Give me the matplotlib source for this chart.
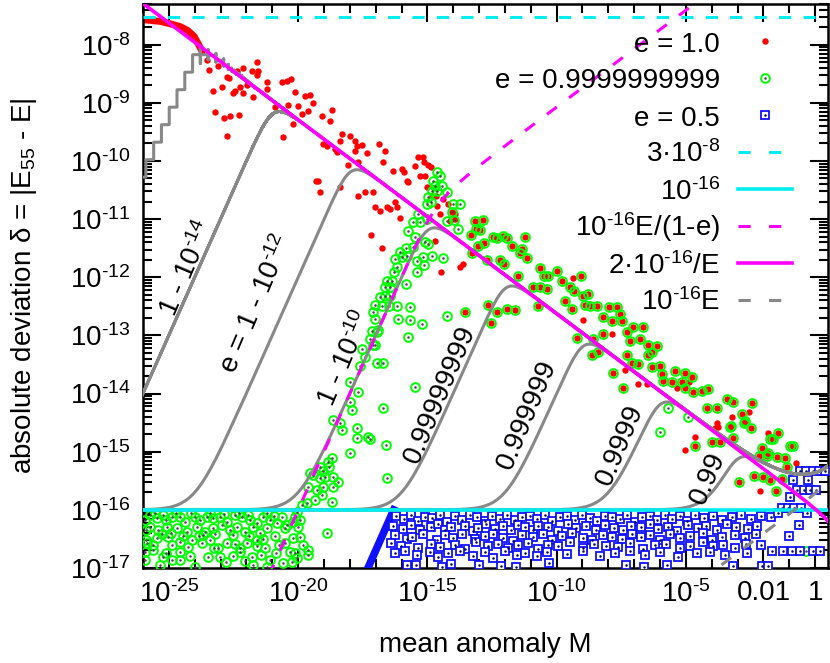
import numpy as np
import matplotlib
matplotlib.use('Agg')
import matplotlib.pyplot as plt
from matplotlib.ticker import FixedLocator, FixedFormatter, NullFormatter, LogLocator

plt.rcParams['font.family'] = ['Liberation Sans', 'DejaVu Sans']
plt.rcParams['mathtext.fontset'] = 'custom'
plt.rcParams['mathtext.rm'] = 'Liberation Sans'
plt.rcParams['mathtext.it'] = 'Liberation Sans'
plt.rcParams['mathtext.default'] = 'regular'

# ---------------- data (log10 M, log10 delta) ----------------
# e = 1.0 points that are not coincident with e = 0.9999999999
red_logM = [-23.52,-23.44,-23.09,-22.75,-22.67,-22.36,-22.13,-21.58,-21.55,-21.78,
            -21.58,-21.20,-21.97,-22.24,-22.44,-22.94,-23.29,-22.51,-22.13,-21.74,
            -21.20,-23.21,-22.86,-22.63,-22.28,-22.75,-20.89,
            -20.62,-20.43,-20.27,-20.12,-19.73,-19.54,-19.42,-20.00,-20.39,-19.61,
            -19.85,-20.20,-19.07,-18.76,-18.68,-20.58,-19.03,-18.88,-18.57,-18.30,
            -18.38,-17.99,-17.79,-17.72,-17.52,-18.49,-17.79,-17.33,-18.07,-17.68,
            -16.87,-16.64,-16.71,-16.32,-15.98,-15.90,-15.78,-15.74,-15.47,-15.36,
            -15.16,-15.12,-14.97,-14.85,-15.28,-15.09,-15.01,-14.82,-14.66,-14.62,
            -14.51,-13.93,-19.23,-19.31,-19.15,-18.38,-17.68,-17.41,-17.10,-17.02,
            -16.56,-16.44,-16.25,-16.17,-16.05,-16.83,-17.17,-16.75,-14.47,-13.62,
            -13.93,-14.12,-14.70,-13.73,-14.39,-14.20,-14.04,
            -9.36,-8.97,-7.85,-7.35,-5.34,-4.87,-6.50,-6.85,-2.55,-3.79,
            -3.21,-3.87,-4.64,-1.82,-5.03,-2.13,-3.75,-0.74]
red_logd = [-8.27,-8.43,-8.36,-8.55,-8.58,-8.45,-8.41,-8.29,-8.45,-8.46,
            -8.53,-8.64,-8.69,-8.72,-8.79,-8.72,-8.79,-8.83,-8.83,-8.90,
            -8.77,-9.15,-9.26,-9.22,-9.21,-9.57,-9.07,
            -8.65,-8.62,-8.59,-8.81,-8.88,-8.86,-9.00,-9.05,-9.03,-9.14,
            -9.19,-9.36,-9.22,-9.31,-9.12,-9.58,-9.70,-9.74,-9.79,-9.53,
            -9.65,-9.57,-9.65,-9.74,-9.72,-9.84,-9.83,-9.86,-10.07,-10.02,
            -9.70,-9.83,-10.02,-10.17,-10.14,-10.19,-10.34,-10.36,-10.08,-9.93,
            -9.93,-10.02,-10.07,-10.10,-10.26,-10.26,-10.45,-10.60,-10.60,-10.77,
            -10.91,-10.91,-10.34,-10.34,-10.53,-10.45,-10.60,-10.53,-10.53,-10.79,
            -10.79,-10.83,-10.71,-10.79,-10.98,-10.86,-11.27,-11.50,-11.91,-11.77,
            -11.00,-11.03,-11.38,-11.82,-10.66,-10.74,-10.88,
            -12.02,-12.74,-12.97,-13.60,-13.90,-13.81,-13.84,-13.84,-14.31,-14.50,
            -14.40,-14.59,-14.74,-14.67,-14.97,-15.67,-14.57,-15.19]

# e = 1.0 dense points at the smallest M (read as a band)
red_band_logM = [-26.0, -25.34, -24.96, -24.56, -24.26, -24.02, -23.87, -23.71]
red_band_logd = [-7.57, -7.60, -7.64, -7.69, -7.76, -7.86, -7.98, -8.12]

# points where e = 1.0 and e = 0.9999999999 coincide
both_logM = [-13.31,-13.11,-12.96,-12.84,-13.15,-13.04,-13.27,-12.80,-12.46,-12.30,
             -12.07,-11.91,-11.72,-11.33,-11.22,-11.41,-11.14,-12.19,-12.03,-12.69,
             -11.49,-10.64,-10.48,-10.33,-10.91,-10.64,-10.37,-10.72,-12.65,-12.30,
             -11.91,-11.61,-12.53,-13.54,-9.98,-9.79,-9.05,-9.48,-9.32,-9.67,
             -9.40,-8.97,-8.78,-8.90,-8.70,-8.43,-7.97,-7.66,-8.20,-7.85,
             -7.47,-7.54,-7.04,-6.65,-9.21,-8.20,-7.27,-7.16,-6.77,-6.46,
             -6.11,-6.31,-8.59,-8.39,-8.63,-7.27,-6.46,-7.08,-6.85,-6.00,
             -6.31,-7.81,-5.92,-5.42,-5.03,-4.76,-5.88,-5.53,-5.15,-5.03,
             -4.72,-4.37,-4.14,-7.43,-4.18,-3.79,-3.40,-3.17,-2.44,-2.82,
             -2.71,-3.29,-2.48,-3.17,-3.68,-3.98,-1.43,-1.74,-2.05,-0.97,
             -0.85,-4.64,-2.17,-1.86,-1.16,-1.08,-2.36,-2.01,-1.74,-1.28,
             -3.25,-2.75,-1.62,-1.82,-1.47,-2.94,-1.51]
both_logd = [-11.28,-11.17,-11.19,-11.02,-11.03,-11.47,-11.59,-11.41,-11.31,-11.33,
             -11.29,-11.33,-11.47,-11.52,-11.31,-11.59,-11.67,-11.71,-11.78,-11.71,
             -11.98,-11.84,-11.98,-11.98,-12.17,-12.16,-12.21,-12.50,-12.48,-12.59,
             -12.55,-12.57,-12.78,-12.59,-11.90,-12.07,-11.98,-12.16,-12.24,-12.41,
             -12.55,-12.33,-12.29,-12.47,-12.50,-12.50,-12.52,-12.52,-12.69,-12.76,
             -12.76,-12.64,-12.86,-12.86,-13.05,-12.97,-12.95,-13.09,-13.07,-13.16,
             -13.19,-13.28,-13.07,-13.28,-13.33,-13.33,-13.33,-13.47,-13.50,-13.53,
             -13.55,-13.64,-13.67,-13.62,-13.64,-13.71,-13.79,-13.81,-13.81,-13.91,
             -13.98,-13.95,-13.93,-13.91,-14.24,-14.24,-14.10,-14.14,-14.17,-14.36,
             -14.47,-14.57,-14.59,-14.76,-14.84,-14.84,-14.67,-14.79,-14.93,-14.91,
             -14.91,-14.91,-15.07,-15.07,-15.10,-15.26,-15.41,-15.43,-15.48,-15.47,
             -14.55,-14.50,-14.78,-15.02,-15.09,-15.52,-15.67]

# e = 0.9999999999 only
green_logM = [-16.94,-17.10,-17.52,-17.41,-17.60,-16.94,-16.71,-15.74,-15.47,-16.71,
              -16.60,-16.56,-17.99,-17.68,-17.99,-17.91,-18.65,-18.38,-18.30,-17.72,
              -17.72,-17.29,-17.21,-17.99,-18.68,-18.84,-18.80,-19.15,-19.03,-19.54,
              -19.42,-19.15,-18.96,-18.65,-18.45,-18.65,-19.03,-19.61,-19.27,-19.07,
              -18.68,-19.34,-19.65,-19.85,-20.04,-20.12,-19.92,-20.19,-20.43,-20.50,
              -20.62,-20.00,-19.92,-20.19,-19.81,-20.50,-20.31,-20.12,-19.61,-19.61,
              -18.88,-20.04,-20.23,
              -14.62,-14.51,-14.78,-14.70,-14.43,-14.62,-14.82,-14.97,-15.01,-14.85,
              -14.24,-14.00,-13.73,-14.04,-14.24,-13.97,-13.81,-15.36,-15.55,-15.28,
              -15.01,-15.74,-15.09,-14.97,-15.47,-15.55,-15.82,-16.05,-15.98,-16.25,
              -15.78,-15.40,-15.16,-14.82,-14.39,-15.13,-15.40,-16.17,-16.29,-16.36,
              -16.56,-16.63,-16.44,-15.82,-16.63,-16.44,-16.83,-17.02,-16.75,-16.48,
              -16.17,-17.10,-17.02,-16.13,-15.67,-15.67,-15.20,-17.14,-16.91,-17.21,
              -17.02,-14.24,-4.91,-5.69,-6.00,
              -25.73,-25.45,-25.22,-24.87,-24.56,-24.37,-23.98,-23.79,-23.52,-23.29,
              -23.02,-22.75,-22.44,-22.17,-21.86,-21.59,-21.35,-21.08,-20.81,-25.73,
              -25.42,-25.07,-24.68,-24.29,-23.91,-23.60,-23.29,-22.94,-22.63,-22.36,
              -22.05,-21.74,-21.47,-21.20,-25.84,-25.45,-25.03,-24.56,-24.10,-23.71,
              -23.40,-23.09,-22.75,-22.24,-21.97,-21.59,-21.28,-24.87,-23.67,-25.92,
              -25.61,-25.22,-24.87,-24.56,-23.98,-23.48,-23.02,-22.51,-22.24,-21.78,
              -21.74,-21.20,-25.34,-24.56,-21.08,-25.92,-25.88,-25.88,-25.92,
              -25.55,-25.10,-24.72,-24.15,-23.40,-22.85,-22.30,-21.95,-21.20,-20.95,
              -25.25,-24.90,-24.45,-23.85,-23.20,-22.50,-21.90,-21.35,-20.90,-20.75,
              -25.60,-24.25,-23.25,-22.45,-21.60,-20.85,-25.10,-24.20,-22.80,-22.05,
              -21.45,-20.60,-0.35]
green_logd = [-12.95,-13.16,-13.24,-13.38,-13.53,-13.47,-13.47,-13.02,-13.88,-14.24,
              -14.88,-15.45,-13.81,-13.97,-14.14,-14.28,-14.45,-14.50,-14.62,-14.59,
              -14.76,-14.74,-14.79,-15.02,-15.10,-15.17,-15.26,-15.26,-15.34,-15.36,
              -15.40,-15.45,-15.43,-15.43,-15.52,-15.60,-15.60,-15.60,-15.66,-15.74,
              -15.86,-15.83,-15.88,-15.91,-16.03,-16.12,-16.17,-16.21,-16.26,-16.31,
              -16.12,-16.29,-16.47,-16.48,-16.60,-16.57,-16.72,-16.74,-16.69,-16.78,
              -16.40,-16.83,-16.90,
              -10.19,-10.26,-10.34,-10.43,-10.43,-10.52,-10.52,-10.62,-10.74,-10.71,
              -10.53,-10.74,-10.74,-10.88,-11.03,-11.02,-11.17,-10.91,-11.05,-11.05,
              -11.00,-11.21,-11.40,-11.43,-11.31,-11.48,-11.50,-11.57,-11.66,-11.69,
              -11.64,-11.72,-11.66,-11.64,-11.67,-11.79,-11.91,-11.83,-11.91,-12.07,
              -12.07,-12.16,-12.17,-12.12,-12.33,-12.33,-12.34,-12.47,-12.50,-12.50,
              -12.50,-12.60,-12.72,-12.72,-12.52,-12.74,-12.81,-12.93,-12.90,-13.07,
              -13.16,-12.67,-14.40,-14.24,-14.66,
              -16.09,-16.14,-16.09,-16.12,-16.12,-16.21,-16.12,-16.17,-16.12,-16.14,
              -16.12,-16.21,-16.09,-16.12,-16.17,-16.22,-16.12,-16.17,-16.22,-16.29,
              -16.34,-16.29,-16.31,-16.38,-16.29,-16.38,-16.31,-16.26,-16.34,-16.29,
              -16.38,-16.29,-16.40,-16.31,-16.57,-16.48,-16.47,-16.55,-16.52,-16.57,
              -16.52,-16.66,-16.57,-16.66,-16.57,-16.52,-16.66,-16.60,-16.43,-16.72,
              -16.69,-16.81,-16.86,-16.72,-16.99,-16.81,-16.81,-16.79,-16.72,-16.81,
              -16.95,-16.98,-16.95,-16.86,-16.86,-16.17,-16.34,-16.52,-16.86,
              -16.05,-16.18,-16.05,-16.06,-16.05,-16.07,-16.05,-16.08,-16.06,-16.10,
              -16.42,-16.40,-16.45,-16.45,-16.42,-16.44,-16.45,-16.50,-16.45,-16.60,
              -16.60,-16.64,-16.66,-16.58,-16.62,-16.75,-16.75,-16.80,-16.90,-16.88,
              -16.78,-16.92,-16.71]

# e = 0.5
blue_logM = [-16.20,-15.92,-15.65,-15.38,-15.10,-14.83,-14.52,-14.25,-13.94,-13.67,
             -13.35,-13.08,-12.77,-12.50,-12.19,-11.92,-11.61,-11.34,-11.03,-10.76,
             -10.45,-10.18,-9.86,-9.59,-9.28,-9.01,-8.70,-8.43,-8.12,-7.85,
             -7.54,-7.27,-6.96,-6.69,-6.38,-6.11,-5.80,-5.53,-5.22,-4.95,
             -4.64,-4.30,-3.95,-3.60,-3.20,-2.85,-2.50,-2.10,-1.70,
             -16.32,-15.94,-15.63,-15.28,-14.86,-14.59,-14.32,-14.08,-13.54,-13.23,
             -13.04,-12.73,-12.38,-12.07,-11.76,-11.49,-11.22,-10.91,-10.72,-10.33,
             -9.94,-9.55,-9.24,-8.86,-8.47,-8.12,-7.77,-7.43,-7.12,-6.73,
             -6.38,-6.07,-5.69,-5.34,-4.91,-4.53,-4.22,-3.80,-3.40,-3.05,
             -2.60,-2.25,
             -16.25,-15.78,-15.59,-15.16,-14.62,-14.31,-14.00,-13.65,-13.15,-12.77,
             -12.46,-12.07,-11.68,-11.34,-10.91,-10.52,-10.17,-9.79,-9.40,-8.97,
             -8.63,-8.20,-7.85,-7.47,-7.08,-6.73,-6.38,-6.00,-5.61,-5.22,
             -4.84,-4.33,-3.99,-3.60,-3.09,-2.70,-2.30,
             -16.40,-16.01,-15.36,-14.86,-14.51,-13.93,-13.54,-13.11,-12.65,-12.26,
             -11.88,-11.49,-11.10,-10.72,-10.33,-9.94,-9.48,-8.97,-8.55,-8.08,
             -7.62,-7.16,-6.65,-6.19,-5.76,-5.22,-4.84,-4.33,-3.95,-3.56,
             -3.09,-2.67,-2.10,
             -16.25,-15.86,-15.40,-14.89,-14.59,-14.20,-13.73,-13.23,-12.77,-12.46,
             -11.99,-11.53,-11.22,-10.76,-10.37,-9.59,-8.97,-8.32,-7.74,-7.16,
             -6.58,-6.00,-5.30,-4.57,-4.06,-3.48,-2.63,-1.66,-1.24,-0.89,
             -0.58,-0.08,0.19,
             -15.78,-15.43,-14.43,-14.08,-13.00,-12.15,-11.57,-10.29,-7.31,-6.61,
             -5.72,-3.17,-2.05,-1.82,
             -0.60,-0.35,-0.10,0.15,0.40,-0.85,-0.27,-0.70,-0.45,-0.20,
             0.05,-0.97,-1.28,-1.05,-0.80,-0.55,-1.45,-0.62,-1.00,-0.30]
blue_logd = [-16.10,-16.16,-16.09,-16.19,-16.12,-16.14,-16.08,-16.21,-16.11,-16.17,
             -16.09,-16.13,-16.20,-16.10,-16.15,-16.08,-16.18,-16.12,-16.10,-16.16,
             -16.09,-16.20,-16.13,-16.11,-16.17,-16.08,-16.14,-16.19,-16.10,-16.12,
             -16.16,-16.09,-16.21,-16.13,-16.10,-16.18,-16.08,-16.15,-16.11,-16.19,
             -16.09,-16.14,-16.10,-16.17,-16.12,-16.08,-16.15,-16.10,-16.13,
             -16.28,-16.33,-16.26,-16.35,-16.30,-16.25,-16.34,-16.29,-16.27,-16.36,
             -16.31,-16.25,-16.33,-16.28,-16.35,-16.26,-16.30,-16.34,-16.27,-16.29,
             -16.36,-16.25,-16.32,-16.28,-16.34,-16.26,-16.31,-16.35,-16.27,-16.30,
             -16.25,-16.33,-16.29,-16.36,-16.26,-16.31,-16.28,-16.34,-16.25,-16.30,
             -16.33,-16.27,
             -16.43,-16.50,-16.46,-16.41,-16.52,-16.44,-16.48,-16.42,-16.50,-16.45,
             -16.41,-16.49,-16.53,-16.44,-16.47,-16.42,-16.51,-16.45,-16.40,-16.48,
             -16.52,-16.43,-16.46,-16.50,-16.41,-16.47,-16.44,-16.52,-16.42,-16.49,
             -16.45,-16.40,-16.51,-16.46,-16.43,-16.48,-16.42,
             -16.57,-16.62,-16.66,-16.58,-16.64,-16.60,-16.67,-16.56,-16.63,-16.59,
             -16.65,-16.61,-16.57,-16.68,-16.60,-16.63,-16.56,-16.66,-16.59,-16.62,
             -16.64,-16.57,-16.67,-16.60,-16.58,-16.65,-16.62,-16.56,-16.63,-16.60,
             -16.66,-16.58,-16.61,
             -16.74,-16.70,-16.78,-16.72,-16.81,-16.75,-16.71,-16.79,-16.73,-16.82,
             -16.70,-16.77,-16.74,-16.80,-16.72,-16.76,-16.71,-16.79,-16.74,-16.70,
             -16.78,-16.73,-16.81,-16.75,-16.72,-16.77,-16.74,-16.71,-16.71,-16.71,
             -16.71,-16.71,-16.71,
             -16.95,-16.95,-16.98,-16.93,-16.94,-16.97,-16.98,-16.92,-16.95,-16.98,
             -16.94,-16.96,-16.97,-16.97,
             -15.33,-15.33,-15.33,-15.33,-15.33,-15.48,-15.48,-15.66,-15.66,-15.66,
             -15.66,-15.78,-15.97,-15.97,-15.97,-15.97,-16.05,-16.26,-16.45,-16.05]

# e = 0.5 densely sampled run (appears as a thick line)
blue_run_logM = [-17.30, -16.30]
blue_run_logd = [-17.00, -16.00]

# eccentricities of the grey model curves and their labels
curve_ecc = [1 - 1e-16, 1 - 1e-14, 1 - 1e-12, 1 - 1e-10, 1 - 1e-8, 1 - 1e-6, 1 - 1e-4, 1 - 1e-2]
curve_labels = ['1 - $\\mathregular{10^{\\text{-}14}}$', 'e = 1 - $\\mathregular{10^{\\text{-}12}}$',
                '1 - $\\mathregular{10^{\\text{-}10}}$', '0.99999999', '0.999999', '0.9999', '0.99']
label_pos_logM = [-24.29, -21.62, -18.18, -14.51, -11.14, -7.54, -4.14]
label_pos_logd = [-11.86, -12.47, -13.41, -14.02, -14.36, -14.88, -15.45]

e_points = 1 - 1e-10      # e = 0.9999999999
eps = 1e-16
upper_level = 3e-8

# ---------------- figure ----------------
W, H = 830, 663
fig = plt.figure(figsize=(W / 100, H / 100), dpi=100)
ax = fig.add_axes([143 / W, 1 - 568 / H, 685 / W, 564 / H])
ax.set_xscale('log')
ax.set_yscale('log')
ax.set_xlim(1e-26, np.pi)
ax.set_ylim(1e-17, 5e-8)

def p(a):
    return 10 ** np.asarray(a, dtype=float)

def sup(base, expo):
    return '$\\mathregular{%s^{\\text{-}%s}}$' % (base, expo)

RED = '#ff0000'
GREEN = '#00ff00'
BLUE = '#1010ff'
CYAN = '#00eeee'
MAG = '#ff00ff'
GRAY = '#888888'

# points
ax.plot(p(red_band_logM), p(red_band_logd), '-', color=RED, lw=5.0, zorder=2,
        solid_capstyle='round')
ax.plot(p(red_logM), p(red_logd), 'o', color=RED, ms=4.6, mew=0, zorder=3)
ax.plot(p(both_logM), p(both_logd), 'o', color=RED, ms=4.6, mew=0, zorder=3)
ax.plot(p(both_logM), p(both_logd), 'o', mfc='none', mec=GREEN, ms=6.3, mew=1.4, zorder=4)
ax.plot(p(green_logM), p(green_logd), 'o', mfc='none', mec=GREEN, ms=6.3, mew=1.4, zorder=4)
ax.plot(p(green_logM), p(green_logd), '.', color='#444444', ms=1.6, zorder=4)
ax.plot(p(blue_run_logM), p(blue_run_logd), '-', color=BLUE, lw=5.5, zorder=4)
ax.plot(p(blue_logM), p(blue_logd), 's', mfc='white', mec=BLUE, ms=5.4, mew=1.3, zorder=4)
ax.plot(p(blue_logM), p(blue_logd), '.', color='#000066', ms=1.6, zorder=4)

# grey model curves (parametric in E)
E = np.logspace(-20, np.log10(np.pi), 60000)
for e in curve_ecc:
    M = E - e * np.sin(E)
    d = eps * (1 + E + E / (1 - e * np.cos(E)))
    ok = M > 0
    ax.plot(M[ok], d[ok], '-', color=GRAY, lw=2.2, zorder=5)

# E - sin E evaluated stably for e = 1
E1 = np.logspace(-12, np.log10(np.pi), 6000)
EmS = np.where(E1 < 1e-3, E1**3 / 6 * (1 - E1**2 / 20 + E1**4 / 840), E1 - np.sin(E1))
M_e1 = EmS
M_ep = E1 * (1 - e_points) + e_points * EmS

ax.axhline(upper_level, color=CYAN, lw=2.2, dashes=(4, 4), zorder=6)
ax.axhline(eps, color=CYAN, lw=2.6, zorder=6)
ax.plot(M_ep, eps * E1 / (1 - e_points), color=MAG, lw=2.2, dashes=(4, 5), zorder=7)
ax.plot(M_e1, 2 * eps / E1, color=MAG, lw=2.6, zorder=7)
ax.plot(M_e1, eps * E1, color=GRAY, lw=2.2, dashes=(4, 5), zorder=7)

# rotated curve labels
for t, lm, ld in zip(curve_labels, label_pos_logM, label_pos_logd):
    ax.text(10**lm, 10**ld, t, rotation=67, rotation_mode='anchor', ha='center',
            va='center', fontsize=20, zorder=8)

# ---------------- axes styling ----------------
xmaj = [1e-25, 1e-20, 1e-15, 1e-10, 1e-5, 1e-2, 1]
xmaj_lab = [sup('10', '25'), sup('10', '20'), sup('10', '15'), sup('10', '10'), sup('10', '5'),
            '0.01', '1']
xmin_t = [10.0**k for k in range(-26, 1) if 10.0**k not in xmaj]
ax.xaxis.set_major_locator(FixedLocator(xmaj))
ax.xaxis.set_major_formatter(FixedFormatter(xmaj_lab))
ax.xaxis.set_minor_locator(FixedLocator(xmin_t))
ax.xaxis.set_minor_formatter(NullFormatter())

ymaj = [10.0**k for k in range(-17, -7)]
ymaj_lab = [sup('10', str(-k)) for k in range(-17, -7)]
ax.yaxis.set_major_locator(FixedLocator(ymaj))
ax.yaxis.set_major_formatter(FixedFormatter(ymaj_lab))
ax.yaxis.set_minor_locator(LogLocator(base=10, subs=np.arange(2, 10), numticks=100))
ax.yaxis.set_minor_formatter(NullFormatter())

ax.tick_params(which='both', direction='in', top=True, right=True, width=1.5,
               labelsize=20)
ax.tick_params(which='major', length=13, pad=9)
ax.tick_params(which='minor', length=6.5)
for s in ax.spines.values():
    s.set_linewidth(1.8)

fig.text(24 / W, 1 - 286 / H, 'absolute deviation δ = |E$_{55}$ - E|', rotation=90,
         ha='center', va='center', fontsize=20)
fig.text(485 / W, 1 - 652 / H, 'mean anomaly M', ha='center', va='baseline', fontsize=20)

# ---------------- legend (manual, right-aligned) ----------------
rows_px = [41, 78, 115, 152, 189, 226, 263, 300]
def fy(px):
    return 1 - (px - 4) / 564.0
xt = (720 - 143) / 685.0
xa, xb, xm = (738 - 143) / 685.0, (792 - 143) / 685.0, (765 - 143) / 685.0
s16 = sup('10', '16')
leg_text = ['e = 1.0', 'e = 0.9999999999', 'e = 0.5', '3·' + sup('10', '8'),
            s16, s16 + 'E/(1-e)', '2·' + s16 + '/E', s16 + 'E']
for t, r in zip(leg_text, rows_px):
    ax.text(xt, fy(r + 10.5), t, transform=ax.transAxes, ha='right', va='baseline',
            fontsize=20, zorder=9)
tr = ax.transAxes
ax.plot([xm], [fy(rows_px[0])], 'o', color=RED, ms=4.6, mew=0, transform=tr, zorder=9)
ax.plot([xm], [fy(rows_px[1])], 'o', mfc='none', mec=GREEN, ms=6.3, mew=1.4, transform=tr, zorder=9)
ax.plot([xm], [fy(rows_px[1])], '.', color='#444444', ms=1.6, transform=tr, zorder=9)
ax.plot([xm], [fy(rows_px[2])], 's', mfc='white', mec=BLUE, ms=5.4, mew=1.3, transform=tr, zorder=9)
ax.plot([xm], [fy(rows_px[2])], '.', color='#000066', ms=1.6, transform=tr, zorder=9)
ax.plot([xa, xb], [fy(rows_px[3])] * 2, color=CYAN, lw=2.2, dashes=(4, 6), transform=tr, zorder=9)
ax.plot([xa, xb], [fy(rows_px[4])] * 2, color=CYAN, lw=2.6, transform=tr, zorder=9)
ax.plot([xa, xb], [fy(rows_px[5])] * 2, color=MAG, lw=2.2, dashes=(4, 6), transform=tr, zorder=9)
ax.plot([xa, xb], [fy(rows_px[6])] * 2, color=MAG, lw=2.6, transform=tr, zorder=9)
ax.plot([xa, xb], [fy(rows_px[7])] * 2, color=GRAY, lw=2.2, dashes=(4, 6), transform=tr, zorder=9)

fig.savefig('out.png', dpi=100)
